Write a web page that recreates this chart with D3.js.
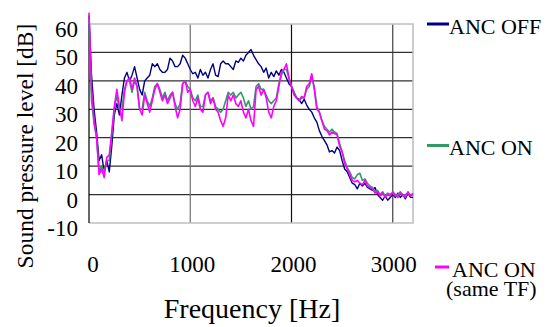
<!DOCTYPE html>
<html>
<head>
<meta charset="utf-8">
<script src="https://cdn.jsdelivr.net/npm/d3@7"></script>
<style>
html,body{margin:0;padding:0;background:#fff;}
svg{display:block;}
</style>
</head>
<body>
<svg id="chart" width="556" height="327"></svg>
<script>
// frequency grid [Hz] (25 Hz steps)
const freq = d3.range(0, 3201, 25);

const ancOff = [63,42,30,22,12,14,8,12,8,17,28,32,28,35,41,43,40,42,45,41,37,35,40,41,42,46,45,
46,44,43,43,44,48,47,45,45,46,49,48,46,44,42.5,43,41,44,42,43,41,44,46,42,41.5,46,47,46,
46,45,44,47,46.5,48,47,49,50,51,49,47.5,46,45,43,44.5,41,43,41.5,43.5,42,44,43,41,39,38,
36,34,33.5,32,33.5,31.5,30,29,27,25.5,22.5,20.5,19,17.5,15,15.5,14.6,16.7,15.5,12,9,8,6,4,3.5,2,
4,3,4,2.5,2,1.5,2.5,0,-1,-2,-0.5,-2,-1,0,-1,0.5,-1,0,-1.5,0.5,-1,-1];

const ancOn = [62,33,25,20,8,10,8,12,12,21,30,35,30,30,37,40,40,36,40,38,30,30,36,33,31,34,38,
39,37,34,36,33,35,36,32,30,32,39,40,38,37,34,33,35,31,31,35,36,33,34,31,30,29,30,33,
36,35,36,34,35,36,34,31,33,30,31,38,39,37,37,35,33,32,33,34,39,42,44,44,41,38,
36,34,33,34,34,37,38,41,38,31,29,26,24,23,22,23,22,21.5,18,15,12,9.5,8,6,5.5,7,
7.5,5,5.5,4,3,2.5,1,1.5,0,1,-0.5,0.5,0,0.5,-0.5,0,1,-0.5,0,0.5,-0.5,0.5];

const ancOnSameTF = [64,37,26,20,7,9,6,13,14,22,31,37,31,26,36,40,41,37,41,38,30,28,35,32,29,33,37,
39,36,33,35,32,34,36,31,27,30,39,40,36,37,33,31,34,30,29,35,36,32,34,30,29,26,24,27,
35,33,35,32,31,33,29,27,30,26,24,37,38,35,37,34,29,27,31,33,38,43,44,46,41,38,
35,34,33,34.5,34,38,39,42.5,37,30,29,26,23,22.5,21,22,21.5,21,17,15,11,9,7,5,4.5,5,
4,3.5,5,3,2.5,2,0.5,1,-0.5,0.5,-1,0,-0.5,1,0,-1,0.5,0,-1,1,-0.5,0];

const xTicks = [0, 1000, 2000, 3000];
const yTicks = [-10, 0, 10, 20, 30, 40, 50, 60];
const seriesNames = ["ANC OFF", "ANC ON", "ANC ON"];
const seriesColors = ["#000080", "#339966", "#ff00ff"];

const FONT = "'Liberation Serif'";
const svg = d3.select("#chart");
const x = d3.scaleLinear().domain([0, 3200]).range([89, 413]);
const y = d3.scaleLinear().domain([-10, 60]).range([223, 24]);

// grid
const g = svg.append("g");
g.selectAll(".hg").data(yTicks.filter(v => v > -10 && v < 60)).enter().append("line")
  .attr("x1", x(0)).attr("x2", x(3200))
  .attr("y1", d => y(d)).attr("y2", d => y(d))
  .attr("stroke", "#303030").attr("stroke-width", 1.2);
g.selectAll(".vg").data(xTicks.filter(v => v > 0)).enter().append("line")
  .attr("x1", d => x(d)).attr("x2", d => x(d))
  .attr("y1", y(60)).attr("y2", y(-10))
  .attr("stroke", (d, i) => ["#707070", "#101010", "#404040"][i]).attr("stroke-width", 1.2);
// plot border
g.append("path")
  .attr("d", `M${x(0)},${y(60)}H${x(3200)}V${y(-10)}H${x(0)}`)
  .attr("fill", "none").attr("stroke", "#c0c0c0").attr("stroke-width", 1.6);
g.append("line").attr("x1", x(0)).attr("x2", x(0)).attr("y1", y(60)).attr("y2", y(-10))
  .attr("stroke", "#000").attr("stroke-width", 1.2);

// series
const line = d3.line().x((d, i) => x(freq[i])).y(d => y(d));
[ancOff, ancOn, ancOnSameTF].forEach((s, k) => {
  svg.append("path").datum(s)
    .attr("d", line)
    .attr("fill", "none")
    .attr("stroke", seriesColors[k])
    .attr("stroke-width", k === 0 ? 1.4 : 1.6)
    .attr("stroke-linejoin", "round");
});

// tick labels
svg.selectAll(".yl").data(yTicks).enter().append("text")
  .attr("x", 78).attr("y", d => y(d) + 13)
  .attr("text-anchor", "end").attr("font-size", 23).attr("font-family", FONT)
  .text(d => d);
svg.selectAll(".xl").data(xTicks).enter().append("text")
  .attr("x", (d, i) => x(d) + [4, 2, 2, 1][i]).attr("y", 272)
  .attr("text-anchor", "middle").attr("font-size", 23).attr("font-family", FONT)
  .text(d => d);

// axis titles
svg.append("text").attr("x", 252).attr("y", 318)
  .attr("text-anchor", "middle").attr("font-size", 28).attr("font-family", FONT)
  .text("Frequency [Hz]");
svg.append("text")
  .attr("transform", "translate(33,146) rotate(-90)")
  .attr("text-anchor", "middle").attr("font-size", 23.5).attr("font-family", FONT)
  .text("Sound pressure level  [dB]");

// legend
const leg = [
  {lx1: 427, ly: 24, tx: 449, ty: 34},
  {lx1: 427, ly: 145.5, tx: 449, ty: 155},
  {lx1: 435, ly: 267, tx: 452, ty: 277}
];
leg.forEach((L, k) => {
  svg.append("line").attr("x1", L.lx1).attr("x2", 449).attr("y1", L.ly).attr("y2", L.ly)
    .attr("stroke", seriesColors[k]).attr("stroke-width", 3);
  svg.append("text").attr("x", L.tx).attr("y", L.ty).attr("font-size", 22).attr("font-family", FONT)
    .text(seriesNames[k]);
});
svg.append("text").attr("x", 446).attr("y", 296).attr("font-size", 22).attr("font-family", FONT)
  .text("(same TF)");
</script>
</body>
</html>
